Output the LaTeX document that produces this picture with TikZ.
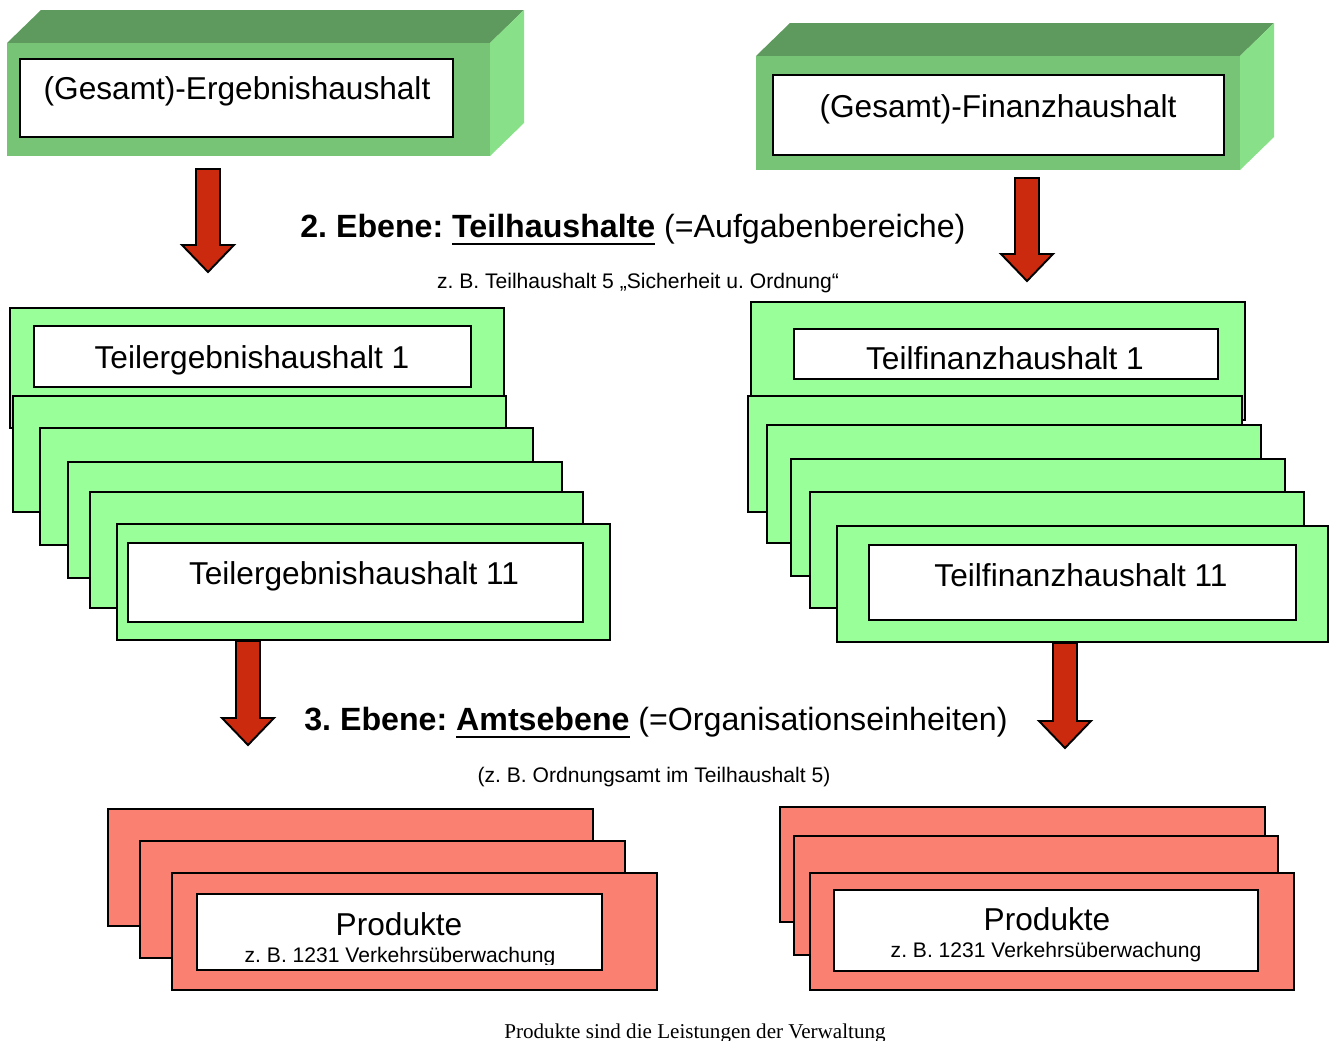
\documentclass[tikz,border=0pt]{standalone}
\usepackage{fontspec}
\setmainfont{Liberation Sans}
\newfontfamily\serifschrift{Liberation Serif}
\usetikzlibrary{calc}
\frenchspacing
\definecolor{dunkelgruen}{HTML}{5E9A5E}
\definecolor{mittelgruen}{HTML}{77C477}
\definecolor{hellgruen}{HTML}{88E088}
\definecolor{blattgruen}{HTML}{99FF99}
\definecolor{lachs}{HTML}{FA8072}
\definecolor{pfeilrot}{HTML}{CC2A0E}
\newcommand\unterstrich[1]{\setbox0\hbox{#1}\rlap{\rule[-0.26em]{\wd0}{1.6pt}}\box0}
\def\quader(#1,#2,#3,#4){%
  \fill[dunkelgruen] (#1,#2) -- ({#1+34},{#2-33}) -- ({#3+34},{#2-33}) -- (#3,#2) -- cycle;
  \fill[hellgruen] (#3,#2) -- ({#3+34},{#2-33}) -- ({#3+34},{#4-33}) -- (#3,#4) -- cycle;
  \fill[mittelgruen] (#1,#2) rectangle (#3,#4);}
\def\pfeil(#1,#2,#3){\draw[line width=1.1pt, fill=pfeilrot, line join=miter]
  ({#1-12},#2) -- ({#1+12},#2) -- ({#1+12},{#3-27}) -- ({#1+26},{#3-27}) -- (#1,#3)
  -- ({#1-26},{#3-27}) -- ({#1-12},{#3-27}) -- cycle;}
\tikzset{
  karte/.style={line width=1.4pt},
  weiss/.style={line width=1.1pt, fill=white},
  grosstext/.style={font=\fontsize{18}{22}\selectfont, anchor=base, inner sep=0pt},
  ebenetext/.style={font=\fontsize{18.3}{22}\selectfont, anchor=base west, inner sep=0pt},
  kleintext/.style={font=\fontsize{12}{14}\selectfont, anchor=base, inner sep=0pt}
}

\begin{document}
\begin{tikzpicture}[x=0.02cm, y=-0.02cm]
		%%%%% START %%%%%
		\useasboundingbox (0, 0) rectangle (1330, 1041);
		
		% Gesamthaushalte
		\quader(7, 43, 490, 156)
		\draw[line width=0.9pt, fill=white] (20, 59) rectangle (453, 137);
		\node[grosstext] (ergebnis) at (237, 99) {(Gesamt)-Ergebnishaushalt};
		
		\quader(756, 56, 1240, 170)
		\draw[line width=0.9pt, fill=white] (773, 75) rectangle (1224, 155);
		\node[grosstext] (finanz) at (998, 117) {(Gesamt)-Finanzhaushalt};
		
		\pfeil(208, 169, 272)
		\pfeil(1027, 178, 281)
		
		\node[ebenetext] (ebene2) at (300, 237) {\textbf{2. Ebene: \unterstrich{Teilhaushalte}} (=Aufgabenbereiche)};
		\node[kleintext] (bsp2) at (638, 288) {z. B. Teilhaushalt 5 „Sicherheit u. Ordnung“};
		
		% Teilergebnishaushalte
		\draw[karte, fill=blattgruen] (10, 308) rectangle (504, 428);
		\draw[weiss] (34, 326) rectangle (471, 387);
		\node[grosstext] (teilerg1) at (252, 368) {Teilergebnishaushalt 1};
		\draw[karte, fill=blattgruen] (13, 396) rectangle (506, 512);
		\draw[karte, fill=blattgruen] (40, 428) rectangle (533, 545);
		\draw[karte, fill=blattgruen] (68, 462) rectangle (562, 578);
		\draw[karte, fill=blattgruen] (90, 492) rectangle (583, 608);
		\draw[karte, fill=blattgruen] (117, 524) rectangle (610, 640);
		\draw[weiss] (128, 543) rectangle (583, 622);
		\node[grosstext] (teilerg11) at (354, 584) {Teilergebnishaushalt 11};
		
		% Teilfinanzhaushalte
		\draw[karte, fill=blattgruen] (751, 302) rectangle (1245, 420);
		\draw[weiss] (794, 329) rectangle (1218, 379);
		\node[grosstext] (teilfin1) at (1005, 369) {Teilfinanzhaushalt 1};
		\draw[karte, fill=blattgruen] (748, 396) rectangle (1242, 512);
		\draw[karte, fill=blattgruen] (767, 425) rectangle (1261, 543);
		\draw[karte, fill=blattgruen] (791, 459) rectangle (1285, 576);
		\draw[karte, fill=blattgruen] (810, 492) rectangle (1304, 608);
		\draw[karte, fill=blattgruen] (837, 526) rectangle (1328, 642);
		\draw[weiss] (869, 545) rectangle (1296, 620);
		\node[grosstext] (teilfin11) at (1081, 586) {Teilfinanzhaushalt 11};
		
		\pfeil(248, 641, 745)
		\pfeil(1065, 643, 748)
		
		\node[ebenetext] (ebene3) at (304, 730) {\textbf{3. Ebene: \unterstrich{Amtsebene}} (=Organisationseinheiten)};
		\node[kleintext] (bsp3) at (654, 782) {(z. B. Ordnungsamt im Teilhaushalt 5)};
		
		% Produkte links
		\draw[karte, fill=lachs] (108, 809) rectangle (593, 926);
		\draw[karte, fill=lachs] (140, 841) rectangle (625, 958);
		\draw[karte, fill=lachs] (172, 873) rectangle (657, 990);
		\draw[weiss] (197, 894) rectangle (602, 970);
		\node[grosstext] (prodl) at (399, 935) {Produkte};
		\begin{scope}
			\clip (198, 895) rectangle (601, 964);
			\node[kleintext] (prodlbsp) at (400, 962) {z. B. 1231 Verkehrsüberwachung};
		\end{scope}
		
		% Produkte rechts
		\draw[karte, fill=lachs] (780, 807) rectangle (1265, 922);
		\draw[karte, fill=lachs] (794, 836) rectangle (1278, 955);
		\draw[karte, fill=lachs] (810, 873) rectangle (1294, 990);
		\draw[weiss] (834, 890) rectangle (1258, 971);
		\node[grosstext] (prodr) at (1047, 930) {Produkte};
		\node[kleintext] (prodrbsp) at (1046, 957) {z. B. 1231 Verkehrsüberwachung};
		
		\node[font=\serifschrift\fontsize{12}{14}\selectfont, anchor=base, inner sep=0pt] (fazit) at (695, 1038) {Produkte sind die Leistungen der Verwaltung};
		%%%%% END %%%%%
	\end{tikzpicture}
\end{document}
